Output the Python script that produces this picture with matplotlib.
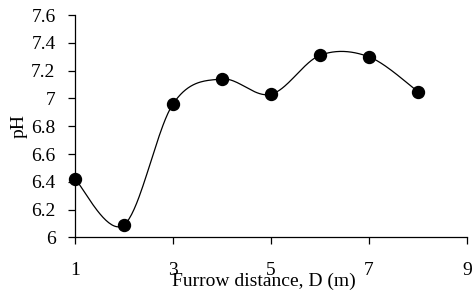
import numpy as np
import matplotlib
matplotlib.use("Agg")
import matplotlib.pyplot as plt

distance = [1, 2, 3, 4, 5, 6, 7, 8]
ph = [6.42, 6.09, 6.96, 7.14, 7.03, 7.31, 7.30, 7.05]
xticks = [1, 3, 5, 7, 9]
yticks = [6, 6.2, 6.4, 6.6, 6.8, 7, 7.2, 7.4, 7.6]
ytick_labels = ["6", "6.2", "6.4", "6.6", "6.8", "7", "7.2", "7.4", "7.6"]

plt.rcParams['font.family'] = ['Liberation Serif', 'DejaVu Serif']

def smooth(xs, ys, n=40):
    p = np.column_stack([xs, ys]).astype(float)
    pts = np.vstack([p[0], p, p[-1]])
    out = []
    t = np.linspace(0, 1, n)[:, None]
    for i in range(1, len(pts) - 2):
        p0, p1, p2, p3 = pts[i - 1], pts[i], pts[i + 1], pts[i + 2]
        c1 = p1 + (p2 - p0) / 6
        c2 = p2 - (p3 - p1) / 6
        seg = ((1 - t) ** 3) * p1 + 3 * ((1 - t) ** 2) * t * c1 + 3 * (1 - t) * t ** 2 * c2 + t ** 3 * p2
        out.append(seg)
    s = np.vstack(out)
    return s[:, 0], s[:, 1]

fig = plt.figure(figsize=(4.72, 2.96), dpi=100)
ax = fig.add_axes([0.159, 0.198, 0.83, 0.751])

sx, sy = smooth(distance, ph)
ax.plot(sx, sy, color='black', lw=0.9, zorder=2)
ax.plot(distance, ph, 'o', color='black', markersize=8.6, zorder=3, clip_on=False)

ax.set_xlim(1, 9)
ax.set_ylim(6, 7.6)
ax.set_xticks(xticks)
ax.set_xticklabels([str(v) for v in xticks])
ax.set_yticks(yticks)
ax.set_yticklabels(ytick_labels)
ax.spines['top'].set_visible(False)
ax.spines['right'].set_visible(False)
for s in ['left', 'bottom']:
    ax.spines[s].set_linewidth(0.9)
ax.tick_params(axis='both', direction='out', length=5, width=0.9, labelsize=14, colors='black')
ax.tick_params(axis='x', pad=13)
ax.tick_params(axis='y', pad=9)

ax.set_xlabel("Furrow distance, D (m)", fontsize=14)
ax.xaxis.set_label_coords(0.482, -0.158)
ax.set_ylabel("pH", fontsize=14)
ax.yaxis.set_label_coords(-0.122, 0.5)

fig.savefig("out.png", dpi=100)
